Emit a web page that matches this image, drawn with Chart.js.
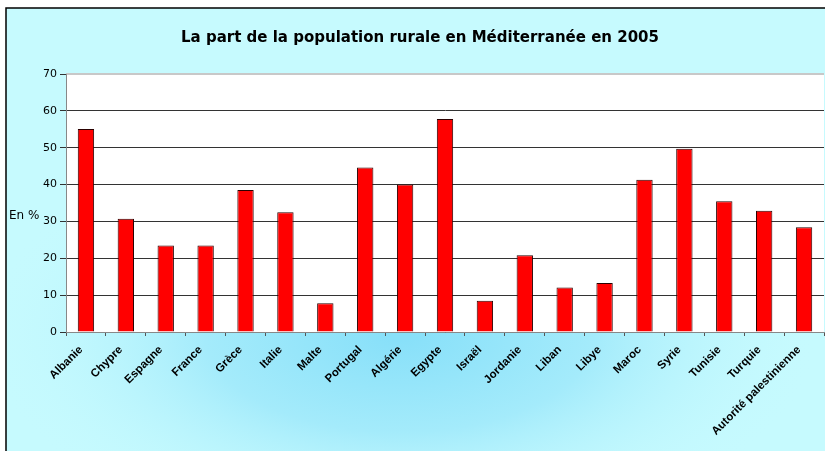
<!DOCTYPE html>
<html>
<head>
<meta charset="utf-8">
<script src="https://cdn.jsdelivr.net/npm/chart.js"></script>
<style>
    body { margin: 0; background: #fff; }
    #wrap { width: 825px; height: 451px; }
</style>
</head>
<body>
<div id="wrap"><canvas id="chart" width="825" height="451"></canvas></div>
<script>
var countries = ["Albanie", "Chypre", "Espagne", "France", "Grèce", "Italie", "Malte", "Portugal", "Algérie",
    "Egypte", "Israël", "Jordanie", "Liban", "Libye", "Maroc", "Syrie", "Tunisie", "Turquie", "Autorité palestinienne"];
var ruralShare = [55.1, 30.7, 23.5, 23.5, 38.5, 32.5, 7.8, 44.6, 40.0,
    57.8, 8.5, 20.8, 12.1, 13.3, 41.3, 49.7, 35.5, 32.9, 28.4];
var yTicks = [0, 10, 20, 30, 40, 50, 60, 70];

// background: framed panel with blue glow, white plot area
var backdrop = {
    id: "backdrop",
    beforeDraw: function(chart) {
        var ctx = chart.ctx;
        var area = chart.chartArea;
        ctx.save();
        ctx.fillStyle = "#fff";
        ctx.fillRect(0, 0, chart.width, chart.height);
        ctx.save();
        ctx.beginPath();
        ctx.rect(6, 8, chart.width - 6, chart.height - 8);
        ctx.clip();
        ctx.fillStyle = "#c6fafe";
        ctx.fillRect(6, 8, chart.width, chart.height);
        ctx.translate(400, 335);
        ctx.scale(2.0, 1);
        var g = ctx.createRadialGradient(0, 0, 5, 0, 0, 210);
        g.addColorStop(0, "#88e0f9");
        g.addColorStop(0.45, "#a4ebfb");
        g.addColorStop(1, "rgba(198,250,254,0)");
        ctx.fillStyle = g;
        ctx.fillRect(-300, -400, 600, 800);
        ctx.restore();
        ctx.strokeStyle = "#000";
        ctx.lineWidth = 1.5;
        ctx.beginPath();
        ctx.moveTo(6, chart.height);
        ctx.lineTo(6, 8);
        ctx.lineTo(chart.width, 8);
        ctx.stroke();
        ctx.fillStyle = "#fff";
        ctx.fillRect(area.left, area.top, area.right - area.left, area.bottom - area.top);
        ctx.strokeStyle = "#c8c8c8";
        ctx.lineWidth = 2;
        ctx.beginPath();
        ctx.moveTo(area.left, area.top);
        ctx.lineTo(area.right, area.top);
        ctx.stroke();
        ctx.restore();
    },
    afterDraw: function(chart) {
        var ctx = chart.ctx;
        ctx.save();
        ctx.font = "12px 'DejaVu Sans'";
        ctx.fillStyle = "#000";
        ctx.textBaseline = "middle";
        ctx.fillText("En %", 9, 216);
        ctx.restore();
    }
};

new Chart(document.getElementById("chart"), {
    type: "bar",
    data: {
        labels: countries,
        datasets: [{
            data: ruralShare,
            backgroundColor: "#ff0000",
            borderColor: "#2a0000",
            borderWidth: 1,
            categoryPercentage: 1,
            barPercentage: 0.41
        }]
    },
    options: {
        responsive: false,
        animation: false,
        layout: { padding: { left: 16, right: 1, top: 0, bottom: 0 } },
        plugins: {
            legend: { display: false },
            tooltip: { enabled: false },
            title: {
                display: true,
                text: "La part de la population rurale en Méditerranée en 2005",
                color: "#000",
                font: { family: "'DejaVu Sans'", size: 15, weight: "bold", lineHeight: 1.2 },
                padding: { top: 29, bottom: 27 }
            }
        },
        scales: {
            x: {
                afterFit: function(scale) { scale.height = 119; },
                grid: { offset: true, drawOnChartArea: false, color: "#555", tickLength: 4 },
                border: { color: "#888", width: 1 },
                ticks: {
                    color: "#000",
                    font: { family: "'Liberation Sans', Arial", size: 11.5, weight: "bold" },
                    minRotation: 45,
                    maxRotation: 45,
                    padding: 7,
                    labelOffset: -5,
                    autoSkip: false
                }
            },
            y: {
                min: 0,
                max: 70,
                afterFit: function(scale) { scale.width = 50; },
                afterBuildTicks: function(scale) {
                    scale.ticks = yTicks.map(function(v) { return { value: v }; });
                },
                grid: {
                    color: function(c) { return c.tick && c.tick.value === 70 ? "rgba(0,0,0,0)" : "#333"; },
                    tickColor: "#333",
                    tickLength: 6
                },
                border: { color: "#888", width: 1 },
                ticks: {
                    color: "#000",
                    font: { family: "'DejaVu Sans'", size: 11 },
                    padding: 3
                }
            }
        }
    },
    plugins: [backdrop]
});
</script>
</body>
</html>
